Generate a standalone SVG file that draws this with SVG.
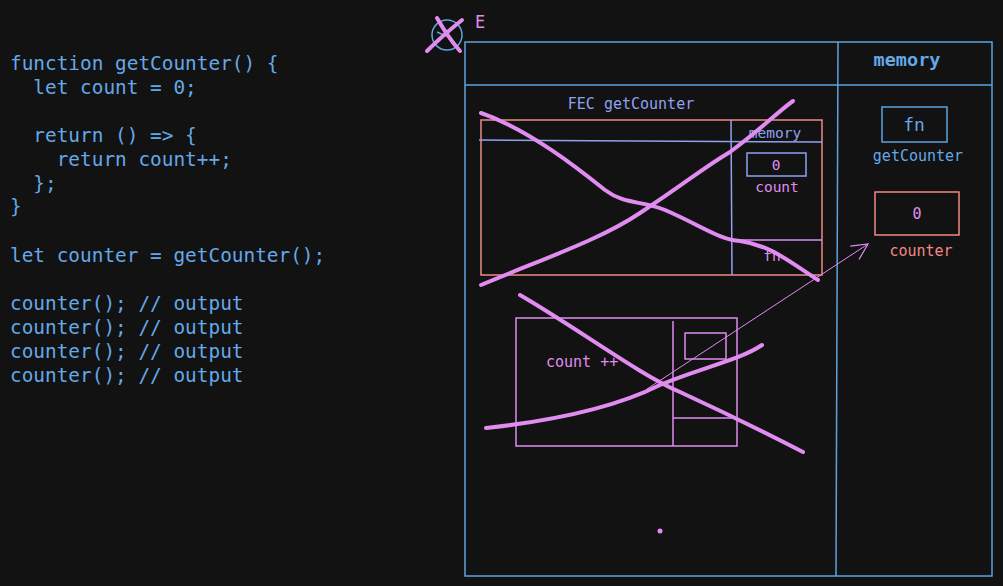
<svg xmlns="http://www.w3.org/2000/svg" width="1003" height="586" viewBox="0 0 1003 586">
<defs>
<style>
.code{font-family:"DejaVu Sans Mono","Liberation Mono",monospace;font-size:19.4px;fill:#64a8e8}
.mono{font-family:"DejaVu Sans Mono","Liberation Mono",monospace}
.bl{fill:none;stroke:#5ea2de;stroke-width:1.5}
.rd{fill:none;stroke:#f08a84;stroke-width:1.5}
.pu{fill:none;stroke:#8fa2f0;stroke-width:1.5}
.pk{fill:none;stroke:#e08cf0;stroke-width:1.5}
.x{fill:none;stroke:#e08cf0;stroke-width:4;stroke-linecap:round;stroke-linejoin:round}
</style>
<marker id="ah" markerWidth="20" markerHeight="20" refX="18" refY="10" orient="auto" markerUnits="userSpaceOnUse">
<path d="M2,2 L18,10 L2,18" fill="none" stroke="#e08cf0" stroke-width="1.2"/>
</marker>
</defs>
<rect width="1003" height="586" fill="#121212"/>
<g id="code">
<text class="code" x="10" y="70" xml:space="preserve">function getCounter() {</text>
<text class="code" x="10" y="94" xml:space="preserve">  let count = 0;</text>
<text class="code" x="10" y="142" xml:space="preserve">  return () =&gt; {</text>
<text class="code" x="10" y="166" xml:space="preserve">    return count++;</text>
<text class="code" x="10" y="190" xml:space="preserve">  };</text>
<text class="code" x="10" y="213" xml:space="preserve">}</text>
<text class="code" x="10" y="262" xml:space="preserve">let counter = getCounter();</text>
<text class="code" x="10" y="310" xml:space="preserve">counter(); // output</text>
<text class="code" x="10" y="334" xml:space="preserve">counter(); // output</text>
<text class="code" x="10" y="358" xml:space="preserve">counter(); // output</text>
<text class="code" x="10" y="382" xml:space="preserve">counter(); // output</text>
</g>
<g id="gec">
<rect class="bl" x="465" y="42" width="527" height="534"/>
<line class="bl" x1="465" y1="85" x2="992" y2="85"/>
<line class="bl" x1="838" y1="42" x2="836" y2="576"/>
<text class="mono" x="907" y="66" font-size="18.5" fill="#64a8e8" text-anchor="middle" font-weight="bold">memory</text>
</g>
<g id="gec-marker">
<circle cx="447" cy="35" r="15" fill="none" stroke="#5ea2de" stroke-width="1.5"/>
<path d="M437,32 L446,36" fill="none" stroke="#5ea2de" stroke-width="1.5"/>
<path class="x" d="M437,18 C445,32 452,42 460,51"/>
<path class="x" d="M462,20 C452,28 438,40 427,51"/>
<text class="mono" x="475" y="28" font-size="17" fill="#e08cf0">E</text>
</g>
<g id="fec">
<text class="mono" x="631" y="109" font-size="15" fill="#8fa2f0" text-anchor="middle">FEC getCounter</text>
<rect class="rd" x="481" y="120" width="341" height="155"/>
<line class="pu" x1="479" y1="140" x2="822" y2="142"/>
<line class="pu" x1="731" y1="120" x2="732" y2="275"/>
<text class="mono" x="775" y="138" font-size="14.5" fill="#8fa2f0" text-anchor="middle">memory</text>
<rect class="pu" x="747" y="153" width="59" height="23"/>
<text class="mono" x="776" y="170" font-size="14.5" fill="#e08cf0" text-anchor="middle">0</text>
<text class="mono" x="777" y="192" font-size="14.5" fill="#e08cf0" text-anchor="middle">count</text>
<line class="pk" x1="731" y1="240" x2="822" y2="240"/>
<text class="mono" x="772" y="261" font-size="14.5" fill="#e08cf0" text-anchor="middle">fn</text>
<path class="x" d="M481,113 C530,130 580,170 605,190 C625,205 640,200 665,210 C700,225 720,240 740,241 C770,245 790,262 818,280"/>
<path class="x" d="M481,285 C540,260 600,240 640,213 C690,180 700,170 730,152 C760,130 780,110 793,101"/>
</g>
<g id="closure">
<rect class="pk" x="516" y="318" width="221" height="128"/>
<line class="pk" x1="673" y1="321" x2="673" y2="446"/>
<rect class="pk" x="685" y="333" width="41" height="26"/>
<line class="pk" x1="673" y1="418" x2="737" y2="418"/>
<text class="mono" x="546" y="367" font-size="15" fill="#e08cf0">count ++</text>
<path class="x" d="M520,295 C580,330 640,375 680,392 C730,415 770,435 803,452"/>
<path class="x" d="M486,428 C560,420 620,405 660,385 C700,368 740,360 762,345"/>
</g>
<g id="memory-right">
<rect class="bl" x="882" y="107" width="65" height="35"/>
<text class="mono" x="914" y="131" font-size="18" fill="#64a8e8" text-anchor="middle">fn</text>
<text class="mono" x="918" y="161" font-size="15" fill="#64a8e8" text-anchor="middle">getCounter</text>
<rect class="rd" x="875" y="192" width="84" height="43"/>
<text class="mono" x="917" y="219" font-size="15" fill="#e08cf0" text-anchor="middle">0</text>
<text class="mono" x="921" y="256" font-size="15" fill="#f08a84" text-anchor="middle">counter</text>
</g>
<g id="connectors">
<line x1="647" y1="389" x2="868" y2="244" stroke="#e08cf0" stroke-width="1" marker-end="url(#ah)"/>
</g>
<circle cx="660" cy="531" r="2.5" fill="#e08cf0"/>
</svg>
